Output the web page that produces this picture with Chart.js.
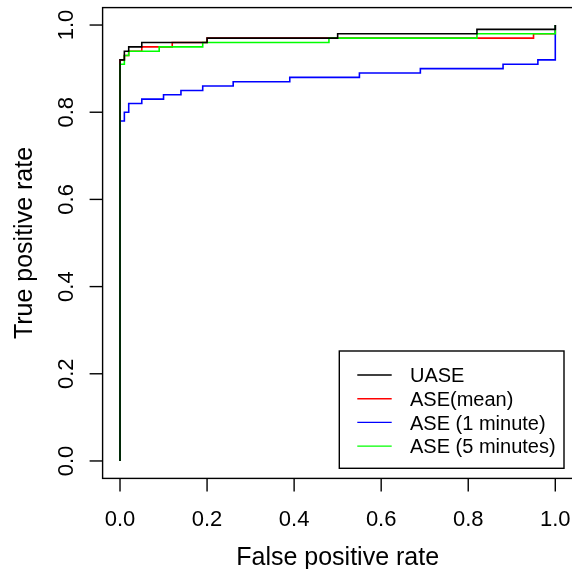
<!DOCTYPE html>
<html>
<head>
<meta charset="utf-8">
<script src="https://cdn.jsdelivr.net/npm/chart.js@4/dist/chart.umd.min.js"></script>
<style>
  html, body { margin: 0; padding: 0; background: #fff; overflow: hidden; }
  #roc { display: block; }
</style>
</head>
<body>
<canvas id="roc" width="574" height="569"></canvas>
<script>
// ROC curves, one per embedding. Each point is a corner of the staircase:
// the curve runs across at the previous TPR, then climbs to the new one.
const SERIES_LABELS = ['UASE', 'ASE(mean)', 'ASE (1 minute)', 'ASE (5 minutes)'];
const SERIES_COLORS = ['#000000', '#ff0000', '#0000ff', '#00ff00'];

const uaseFpr = [0, 0, 0.01, 0.02, 0.05, 0.20, 0.50, 0.82, 1.00, 1.00];
const uaseTpr = [0, 0.92, 0.94, 0.95, 0.96, 0.97, 0.98, 0.99, 0.99, 1.00];

const meanFpr = [0, 0, 0.01, 0.02, 0.05, 0.12, 0.20, 0.95, 1.00, 1.00];
const meanTpr = [0, 0.92, 0.93, 0.94, 0.95, 0.96, 0.97, 0.98, 0.98, 1.00];

const min1Fpr = [0, 0, 0.01, 0.02, 0.05, 0.10, 0.14, 0.19, 0.26, 0.39, 0.55, 0.69, 0.88, 0.96, 1.00, 1.00];
const min1Tpr = [0, 0.78, 0.80, 0.82, 0.83, 0.84, 0.85, 0.86, 0.87, 0.88, 0.89, 0.90, 0.91, 0.92, 0.92, 1.00];

const min5Fpr = [0, 0, 0.01, 0.02, 0.09, 0.19, 0.48, 0.82, 1.00, 1.00];
const min5Tpr = [0, 0.91, 0.93, 0.94, 0.95, 0.96, 0.97, 0.98, 0.98, 1.00];

const X_TICKS = [0, 0.2, 0.4, 0.6, 0.8, 1.0];
const X_TICK_LABELS = ['0.0', '0.2', '0.4', '0.6', '0.8', '1.0'];
const Y_TICKS = [0, 0.2, 0.4, 0.6, 0.8, 1.0];
const Y_TICK_LABELS = ['0.0', '0.2', '0.4', '0.6', '0.8', '1.0'];
const X_TITLE = 'False positive rate';
const Y_TITLE = 'True positive rate';

const FONT = '"Liberation Sans", Arial, Helvetica, sans-serif';
const TICK_LEN = 13;

function toPoints(xs, ys) {
  return xs.map((x, i) => ({ x: x, y: ys[i] }));
}

const curves = [
  toPoints(uaseFpr, uaseTpr),
  toPoints(meanFpr, meanTpr),
  toPoints(min1Fpr, min1Tpr),
  toPoints(min5Fpr, min5Tpr)
];

// black sits on top, then green, blue, red underneath
const drawOrder = [0, 3, 2, 1];

const datasets = curves.map((pts, i) => ({
  label: SERIES_LABELS[i],
  data: pts,
  borderColor: SERIES_COLORS[i],
  borderWidth: 1.6,
  pointRadius: 0,
  fill: false,
  tension: 0,
  stepped: 'before',
  order: drawOrder[i]
}));

// box, axes, tick labels, titles and legend, drawn base-graphics style
const frame = {
  id: 'frame',
  afterDatasetsDraw(chart) {
    const ctx = chart.ctx;
    const area = chart.chartArea;
    const xs = chart.scales.x;
    const ys = chart.scales.y;

    ctx.save();
    ctx.strokeStyle = '#000';
    ctx.fillStyle = '#000';
    ctx.lineWidth = 1.4;
    ctx.strokeRect(area.left, area.top, area.right - area.left, area.bottom - area.top);

    // x axis
    ctx.font = '22px ' + FONT;
    ctx.textAlign = 'center';
    ctx.textBaseline = 'alphabetic';
    X_TICKS.forEach((v, i) => {
      const px = xs.getPixelForValue(v);
      ctx.beginPath();
      ctx.moveTo(px, area.bottom);
      ctx.lineTo(px, area.bottom + TICK_LEN);
      ctx.stroke();
      ctx.fillText(X_TICK_LABELS[i], px, 525.5);
    });

    // y axis, labels turned to read upwards
    Y_TICKS.forEach((v, i) => {
      const py = ys.getPixelForValue(v);
      ctx.beginPath();
      ctx.moveTo(area.left, py);
      ctx.lineTo(area.left - TICK_LEN, py);
      ctx.stroke();
      ctx.save();
      ctx.translate(73, py);
      ctx.rotate(-Math.PI / 2);
      ctx.fillText(Y_TICK_LABELS[i], 0, 0);
      ctx.restore();
    });

    // axis titles
    ctx.font = '25px ' + FONT;
    ctx.fillText(X_TITLE, (area.left + area.right) / 2, 565);
    ctx.save();
    ctx.translate(31.5, (area.top + area.bottom) / 2);
    ctx.rotate(-Math.PI / 2);
    ctx.fillText(Y_TITLE, 0, 0);
    ctx.restore();

    // legend in the lower right corner
    const box = { left: 339.3, top: 351, right: 564, bottom: 468.3 };
    ctx.lineWidth = 1.4;
    ctx.strokeRect(box.left, box.top, box.right - box.left, box.bottom - box.top);
    ctx.font = '20px ' + FONT;
    ctx.textAlign = 'left';
    SERIES_LABELS.forEach((lab, i) => {
      const ry = 375 + i * 23.7;
      ctx.strokeStyle = SERIES_COLORS[i];
      ctx.lineWidth = 1.4;
      ctx.beginPath();
      ctx.moveTo(357.3, ry);
      ctx.lineTo(391.7, ry);
      ctx.stroke();
      ctx.fillText(lab, 410, ry + 7.2);
    });
    ctx.restore();
  }
};

new Chart(document.getElementById('roc'), {
  type: 'line',
  data: { datasets },
  options: {
    responsive: false,
    animation: false,
    devicePixelRatio: 1,
    layout: { padding: { left: 102.6, top: 7.6, right: 1.3, bottom: 90.6 } },
    plugins: {
      legend: { display: false },
      tooltip: { enabled: false },
      title: { display: false }
    },
    scales: {
      x: { type: 'linear', display: false, min: -0.04, max: 1.04 },
      y: { type: 'linear', display: false, min: -0.04, max: 1.04 }
    }
  },
  plugins: [frame]
});
</script>
</body>
</html>
